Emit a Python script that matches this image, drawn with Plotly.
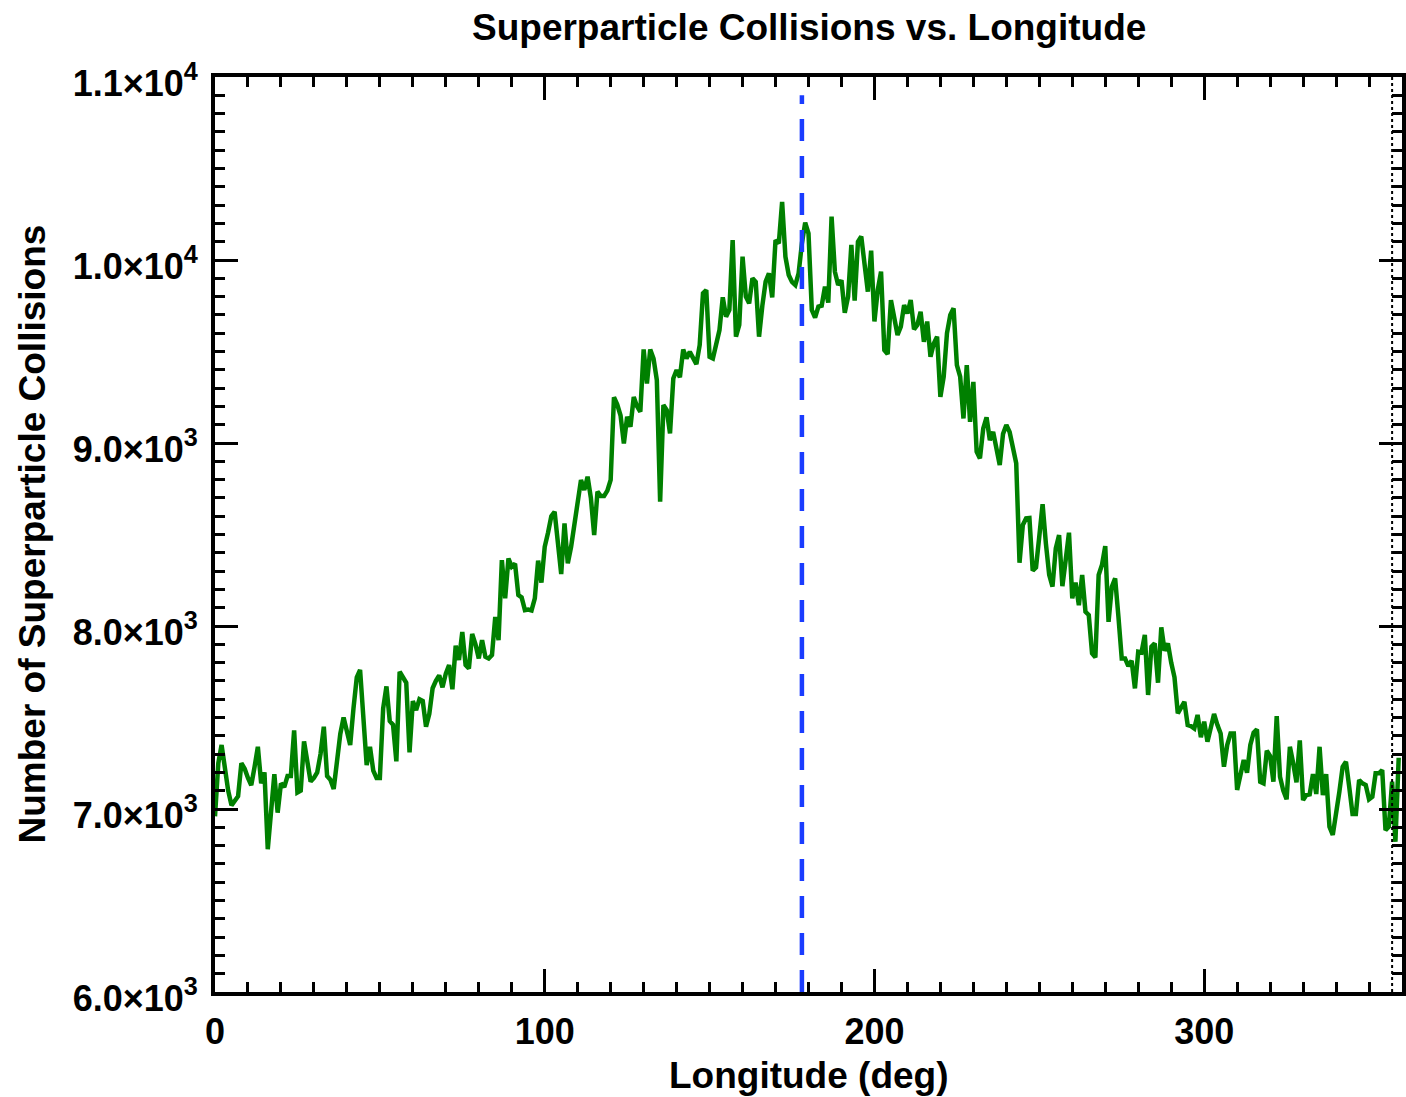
import plotly.graph_objects as go

# ---- data ----
longitude = list(range(0, 360))
collisions = [
    6960, 7250, 7350, 7200, 7100, 7020, 7050, 7070, 7250, 7220,
    7170, 7130, 7230, 7340, 7140, 7200, 6780, 7000, 7190, 6980,
    7140, 7120, 7180, 7180, 7430, 7090, 7100, 7370, 7250, 7150,
    7170, 7200, 7300, 7450, 7180, 7160, 7110, 7250, 7410, 7500,
    7430, 7350, 7550, 7720, 7760, 7500, 7240, 7340, 7210, 7170,
    7170, 7550, 7670, 7480, 7460, 7260, 7750, 7720, 7690, 7310,
    7590, 7540, 7600, 7590, 7450, 7520, 7660, 7700, 7730, 7665,
    7740, 7787, 7654, 7892, 7814, 7967, 7787, 7768, 7956, 7900,
    7823, 7923, 7832, 7823, 7841, 8050, 7923, 8360, 8151, 8369,
    8324, 8340, 8169, 8156, 8087, 8090, 8085, 8151, 8357, 8237,
    8433, 8510, 8600, 8624, 8424, 8284, 8561, 8342, 8433, 8550,
    8670, 8798, 8743, 8816, 8700, 8497, 8734, 8710, 8710, 8740,
    8798, 9250, 9210, 9150, 8998, 9143, 9089, 9252, 9200, 9171,
    9511, 9325, 9511, 9462, 9344, 8679, 9207, 9180, 9052, 9353,
    9399, 9359, 9511, 9462, 9498, 9460, 9431, 9535, 9818, 9836,
    9471, 9462, 9540, 9617, 9796, 9690, 9727, 10109, 9581, 9645,
    10018, 9800, 9763, 9900, 9880, 9581, 9750, 9882, 9927, 9796,
    10109, 10091, 10318, 10018, 9918, 9880, 9863, 9927, 10091, 10204,
    10145, 9727, 9685, 9745, 9750, 9854, 9767, 10237, 9936, 9863,
    9890, 9712, 9800, 10082, 9778, 10100, 10128, 9980, 9827, 10051,
    9664, 9836, 9936, 9508, 9486, 9781, 9690, 9590, 9636, 9754,
    9708, 9781, 9621, 9645, 9717, 9553, 9664, 9471, 9544, 9581,
    9252, 9362, 9600, 9699, 9736, 9426, 9362, 9134, 9426, 9116,
    9334, 8952, 8916, 9080, 9140, 9016, 9061, 8980, 8880, 9050,
    9098, 9060, 8980, 8889, 8346, 8552, 8588, 8590, 8302, 8320,
    8490, 8666, 8450, 8279, 8215, 8424, 8497, 8218, 8360, 8510,
    8151, 8237, 8114, 8279, 8078, 8060, 7850, 7829, 8279, 8333,
    8437, 8023, 8215, 8260, 8050, 7823, 7823, 7781, 7810, 7659,
    7859, 7855, 7951, 7623, 7887, 7905, 7690, 7993, 7865, 7905,
    7800, 7720, 7523, 7560, 7586, 7459, 7453, 7440, 7514, 7392,
    7477, 7368, 7450, 7519, 7460, 7413, 7231, 7350, 7413, 7413,
    7104, 7190, 7268, 7198, 7350, 7417, 7435, 7149, 7140, 7318,
    7290, 7149, 7508, 7176, 7100, 7053, 7340, 7250, 7146, 7375,
    7049, 7076, 7080, 7191, 7082, 7340, 7076, 7191, 6903, 6858,
    7000, 7094, 7231, 7258, 7120, 6973, 6973, 7158, 7140, 7131,
    7053, 7067, 7195, 7195, 7213, 6885, 6903, 7149, 6821, 7280,
]

x_ticks = [0, 100, 200, 300]
x_ticktext = ["0", "100", "200", "300"]
y_ticks = [6000, 7000, 8000, 9000, 10000, 11000]
y_ticktext = ["6.0×10<sup>3</sup>", "7.0×10<sup>3</sup>", "8.0×10<sup>3</sup>",
              "9.0×10<sup>3</sup>", "1.0×10<sup>4</sup>", "1.1×10<sup>4</sup>"]
x_range = [0, 360]
y_range = [6000, 11000]
marker_lon = 178      # dashed reference longitude
edge_lon = 357        # dotted line near right edge

title_text = "Superparticle Collisions vs. Longitude"
x_title = "Longitude (deg)"
y_title = "Number of Superparticle Collisions"

FONT = "Liberation Sans, Arial, Helvetica, sans-serif"

fig = go.Figure()
fig.add_trace(go.Scatter(
    x=longitude, y=collisions, mode="lines",
    line=dict(color="#008000", width=4.5),
    showlegend=False, hoverinfo="skip",
))

fig.add_shape(type="line", xref="x", yref="paper",
              x0=marker_lon, x1=marker_lon, y0=0, y1=0.98,
              line=dict(color="#1a3cff", width=4.5, dash="22px,15px"))
fig.add_shape(type="line", xref="x", yref="paper",
              x0=edge_lon, x1=edge_lon, y0=0, y1=1,
              line=dict(color="black", width=2, dash="dot"))

axis_common = dict(
    showgrid=False, zeroline=False,
    showline=True, linecolor="black", linewidth=4, mirror="ticks",
    ticks="inside", ticklen=23, tickwidth=3, tickcolor="black",
    tickfont=dict(family=FONT, size=36, color="black", weight="bold"),
)

fig.update_xaxes(
    range=x_range, tickmode="array", tickvals=x_ticks, ticktext=x_ticktext,
    minor=dict(dtick=10, ticks="inside", ticklen=10, tickwidth=3, tickcolor="black"),
    ticklabelstandoff=5,
    **axis_common,
)
fig.update_yaxes(
    range=y_range, tickmode="array", tickvals=y_ticks, ticktext=y_ticktext,
    minor=dict(dtick=100, ticks="inside", ticklen=10, tickwidth=3, tickcolor="black"),
    ticklabelstandoff=6, ticklabelshift=6,
    **axis_common,
)

fig.update_layout(
    width=1406, height=1097,
    margin=dict(l=215, r=0, t=77, b=105),
    plot_bgcolor="white", paper_bgcolor="white",
    annotations=[
        dict(text=title_text, xref="paper", yref="paper", x=0.5, y=1,
             yshift=50, showarrow=False, xanchor="center", yanchor="middle",
             font=dict(family=FONT, size=37, color="black", weight="bold")),
        dict(text=x_title, xref="paper", yref="paper", x=0.5, y=0,
             yshift=-83, showarrow=False, xanchor="center", yanchor="middle",
             font=dict(family=FONT, size=37, color="black", weight="bold")),
        dict(text=y_title, xref="paper", yref="paper", x=0, y=0.5,
             xshift=-183, showarrow=False, xanchor="center", yanchor="middle",
             textangle=-90,
             font=dict(family=FONT, size=37, color="black", weight="bold")),
    ],
)

fig.write_html("out.html")
